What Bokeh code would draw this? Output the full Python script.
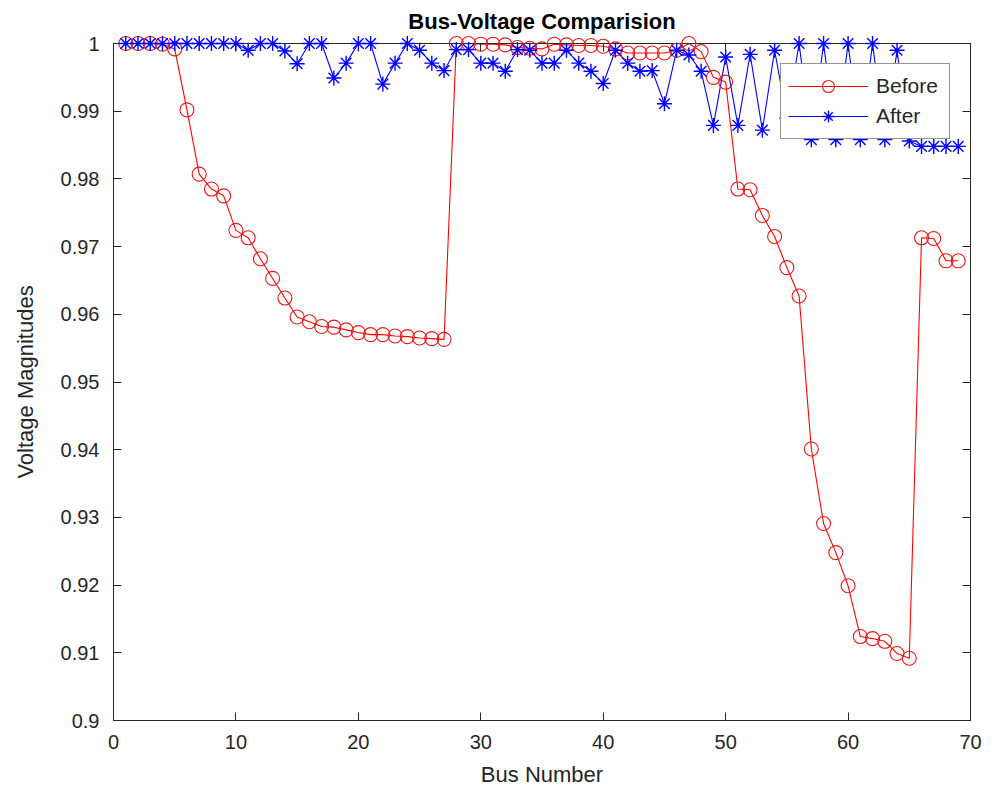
from bokeh.plotting import figure
from bokeh.models import (Range1d, LinearAxis, FixedTicker, Legend, LegendItem,
                          ColumnDataSource, CustomLabelingPolicy)
from bokeh.embed import file_html
from bokeh.resources import INLINE

bus = list(range(1, 70))
before = [1.0, 1.0, 1.0, 0.9999, 0.9992, 0.9902, 0.9807, 0.9785, 0.9775, 0.9724,
          0.9713, 0.9682, 0.9653, 0.9624, 0.9596, 0.9589, 0.9582, 0.9581, 0.9577, 0.9573,
          0.9570, 0.9570, 0.9568, 0.9567, 0.9565, 0.9564, 0.9563, 1.0, 1.0, 0.9999,
          0.9999, 0.9998, 0.9994, 0.9993, 0.9992, 0.9999, 0.9998, 0.9997, 0.9997, 0.9996,
          0.9992, 0.9986, 0.9986, 0.9986, 0.9986, 0.9990, 1.0, 0.9988, 0.9950, 0.9943,
          0.9785, 0.9784, 0.9746, 0.9715, 0.9669, 0.9627, 0.9401, 0.9291, 0.9248, 0.9199,
          0.9124, 0.9121, 0.9117, 0.9099, 0.9092, 0.9713, 0.9712, 0.9679, 0.9679]
after = [1.0, 1.0, 1.0, 1.0, 1.0, 1.0, 1.0, 1.0, 1.0, 1.0,
         0.9990, 1.0, 1.0, 0.9989, 0.9970, 1.0, 1.0, 0.9949, 0.9971, 1.0,
         1.0, 0.9940, 0.9971, 1.0, 0.9990, 0.9971, 0.9960, 0.9991, 0.9991, 0.9971,
         0.9971, 0.9959, 0.9991, 0.9990, 0.9971, 0.9971, 0.9990, 0.9971, 0.9959, 0.9941,
         0.9990, 0.9971, 0.9959, 0.9960, 0.9911, 0.9990, 0.9983, 0.9959, 0.9879, 0.9980,
         0.9879, 0.9984, 0.9872, 0.9990, 0.9890, 1.0, 0.9858, 1.0, 0.9858, 1.0,
         0.9858, 1.0, 0.9858, 0.9990, 0.9856, 0.9848, 0.9848, 0.9848, 0.9848]

x_ticks = [0, 10, 20, 30, 40, 50, 60, 70]
y_ticks = [0.9, 0.91, 0.92, 0.93, 0.94, 0.95, 0.96, 0.97, 0.98, 0.99, 1.0]
y_tick_labels = ["0.9", "0.91", "0.92", "0.93", "0.94", "0.95", "0.96", "0.97", "0.98", "0.99", "1"]

FONT = "Liberation Sans"
TXT = "#262626"

p = figure(width=992, height=803, output_backend="svg", toolbar_location=None,
           x_range=Range1d(0, 70), y_range=Range1d(0.9, 1.0),
           min_border_left=113, min_border_right=22, min_border_top=41, min_border_bottom=83,
           x_axis_label="Bus Number", y_axis_label="Voltage Magnitudes")
p.title.text = "Bus-Voltage Comparision"
p.title.align = "center"
p.title.text_font = FONT
p.title.text_font_size = "22px"
p.title.text_font_style = "bold"
p.title.text_color = "#000000"
p.title.standoff = 12
p.grid.visible = False
p.outline_line_color = TXT
p.background_fill_color = "white"
p.border_fill_color = "white"

xa = p.below[0]
ya = p.left[0]
top_ax = LinearAxis()
right_ax = LinearAxis()
p.add_layout(top_ax, "above")
p.add_layout(right_ax, "right")

for ax in [xa, top_ax]:
    ax.ticker = FixedTicker(ticks=x_ticks)
for ax in [ya, right_ax]:
    ax.ticker = FixedTicker(ticks=y_ticks)
    ax.major_label_overrides = {t: s for t, s in zip(y_ticks, y_tick_labels)}

for ax in [xa, ya, top_ax, right_ax]:
    ax.axis_line_color = TXT
    ax.major_tick_line_color = TXT
    ax.major_tick_in = 8
    ax.major_tick_out = 0
    ax.minor_tick_in = 0
    ax.minor_tick_out = 0
    ax.major_label_text_font = FONT
    ax.major_label_text_font_size = "20px"
    ax.major_label_text_color = TXT
    ax.axis_label_text_font = FONT
    ax.axis_label_text_font_size = "22px"
    ax.axis_label_text_font_style = "normal"
    ax.axis_label_text_color = TXT

for ax in [top_ax, right_ax]:
    ax.major_label_text_font_size = "2px"
    ax.major_label_standoff = 0
    ax.major_label_policy = CustomLabelingPolicy(code="return []")

xa.major_label_standoff = 14
xa.axis_label_standoff = 10
ya.major_label_standoff = 14
ya.axis_label_standoff = 20

src = ColumnDataSource(dict(bus=bus, before=before, after=after))

l1 = p.line("bus", "before", source=src, line_color="#FF0000", line_width=1.1)
s1 = p.scatter("bus", "before", source=src, marker="circle", size=14,
               fill_color=None, line_color="#E41A1A", line_width=1.1, level="annotation")
l2 = p.line("bus", "after", source=src, line_color="#0000FF", line_width=1.1)
s2 = p.scatter("bus", "after", source=src, marker="asterisk", size=15,
               line_color="#0000FF", line_width=1.4, level="annotation")

legend = Legend(items=[LegendItem(label="Before", renderers=[l1, s1]),
                       LegendItem(label="After", renderers=[l2, s2])],
                location="top_right", level="overlay")
legend.margin = 20
legend.padding = 7
legend.spacing = 0
legend.glyph_width = 80
legend.glyph_height = 30
legend.label_height = 30
legend.label_width = 66
legend.label_standoff = 8
legend.label_text_font = FONT
legend.label_text_font_size = "21px"
legend.label_text_color = TXT
legend.border_line_color = TXT
legend.border_line_width = 1
legend.background_fill_color = "white"
legend.background_fill_alpha = 1.0
p.add_layout(legend)

open("out.html", "w").write(file_html(p, INLINE))
